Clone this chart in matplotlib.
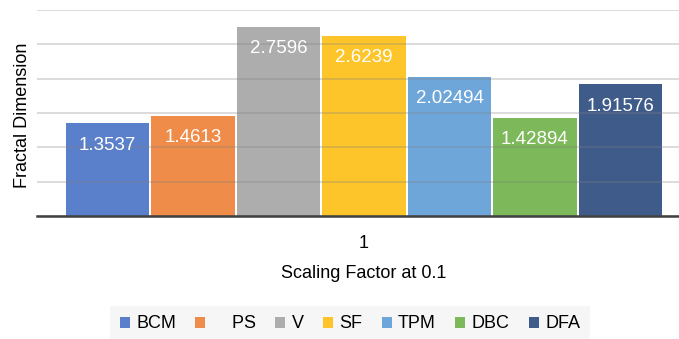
import matplotlib
matplotlib.use("Agg")
import matplotlib.pyplot as plt
from matplotlib.patches import Patch

methods = ["BCM", "PS", "V", "SF", "TPM", "DBC", "DFA"]
legend_labels = ["BCM", "    PS", "V", "SF", "TPM", "DBC", "DFA"]
values = [1.3537, 1.4613, 2.7596, 2.6239, 2.02494, 1.42894, 1.91576]
value_labels = ["1.3537", "1.4613", "2.7596", "2.6239", "2.02494", "1.42894", "1.91576"]
colors = ["#5a80cc", "#ef8c4a", "#adadad", "#fdc52a", "#6fa6da", "#7db85a", "#3f5b8a"]
category = "1"
yticks = [0, 0.5, 1.0, 1.5, 2.0, 2.5, 3.0]

plt.rcParams['font.family'] = ['Liberation Sans', 'DejaVu Sans']

W, H = 679, 339
fig = plt.figure(figsize=(W / 100, H / 100), dpi=100)
left, right, bottom, top = 37, 679, 216, 10
ax = fig.add_axes([left / W, 1 - bottom / H, (right - left) / W, (bottom - top) / H])

x = list(range(len(values)))
bars = ax.bar(x, values, width=0.977, color=colors, zorder=2)

ax.set_ylim(0, 3.0)
ax.set_xlim(-0.828, 6.687)
ax.set_yticks(yticks)
ax.set_yticklabels([])
ax.tick_params(axis='y', length=0)
ax.yaxis.grid(True, color='#808080', alpha=0.3, linewidth=1.3, zorder=3)
ax.set_axisbelow(False)
for s in ["left", "right", "top"]:
    ax.spines[s].set_visible(False)
ax.spines["bottom"].set_color("#404040")
ax.spines["bottom"].set_linewidth(1.8)
ax.spines["bottom"].set_zorder(4)

ax.set_xticks([3])
ax.set_xticklabels([category], fontsize=13)
ax.tick_params(axis='x', length=0, pad=14)

for xi, v, lab in zip(x, values, value_labels):
    ax.annotate(lab, (xi, v), xytext=(0, -22), textcoords='offset pixels',
                ha='center', va='center', color='white', fontsize=13.5, zorder=5)

fig.text(364 / W, 1 - 273 / H, "Scaling Factor at 0.1", ha='center', va='center', fontsize=13)
fig.text(23 / W, 1 - 115 / H, "Fractal Dimension", ha='center', va='center', rotation=90, fontsize=13)

handles = [Patch(facecolor=c, edgecolor='none') for c in colors]
leg = fig.legend(handles, legend_labels, loc='center', bbox_to_anchor=(350 / W, 1 - 324 / H),
                 ncol=7, frameon=True, fontsize=13, handlelength=0.55, handleheight=0.55,
                 handletextpad=0.35, columnspacing=1.08, borderpad=0.55, fancybox=False)
leg.get_frame().set_facecolor('#f4f4f4')
leg.get_frame().set_edgecolor('none')

fig.savefig("out.png", dpi=100)
